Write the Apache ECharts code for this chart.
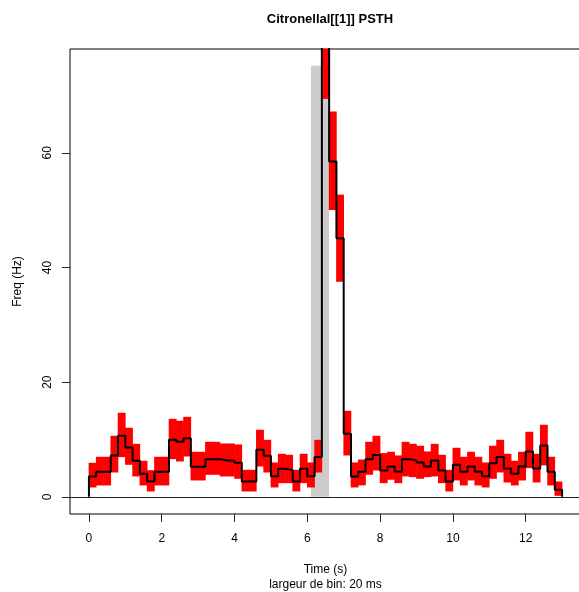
<!DOCTYPE html>
<html lang="fr">
<head>
    <meta charset="UTF-8">
    <title>Citronellal[[1]] PSTH</title>
    <script src="https://cdn.jsdelivr.net/npm/echarts@6/dist/echarts.min.js"></script>
    <style>
        html, body { margin: 0; padding: 0; background: #fff; }
        #main { width: 579px; height: 592px; }
    </style>
</head>
<body>
    <div id="main"></div>
    <script>
        // PSTH, bins de 0.2 s de 0 a 13 s
        var binWidth = 0.2;
        var freqMean = [
            3.55, 4.36, 4.36, 7.21, 10.64, 8.6, 6.28, 4.01, 2.67, 4.36,
            4.36, 9.94, 9.59, 10.23, 5.23, 5.23, 6.57, 6.57, 6.34, 6.34,
            5.93, 2.67, 2.67, 8.2, 7.15, 3.6, 4.88, 4.65, 2.67, 4.88,
            3.6, 6.92, 80, 58.5, 45.1, 11.0, 3.55, 4.36, 6.57, 7.27,
            4.59, 5.29, 4.36, 6.57, 6.34, 5.99, 5.29, 6.34, 4.59, 2.67,
            5.58, 4.36, 5.29, 4.36, 3.6, 5.87, 6.92, 4.94, 4.01, 5.29,
            7.91, 4.94, 8.95, 4.36, 1.22
        ];
        var freqUpper = [
            5.93, 6.98, 6.98, 10.64, 14.65, 12.04, 9.24, 6.28, 4.65, 6.98,
            6.98, 13.6, 13.26, 13.95, 7.85, 7.85, 9.59, 9.59, 9.3, 9.3,
            9.13, 4.71, 4.71, 11.69, 9.94, 5.99, 7.5, 7.33, 4.71, 7.5,
            5.99, 9.94, 90.6, 67.2, 52.7, 15.0, 5.99, 6.5, 9.59, 10.64,
            7.62, 7.85, 7.21, 9.59, 9.24, 8.9, 7.91, 9.24, 7.33, 4.71,
            8.55, 6.98, 7.85, 6.98, 5.99, 8.9, 9.94, 7.5, 6.28, 7.85,
            11.34, 7.5, 12.56, 6.98, 2.67
        ];
        var freqLower = [
            1.63, 1.98, 1.98, 4.24, 6.92, 5.58, 3.55, 1.98, 0.93, 1.98,
            1.98, 6.57, 6.16, 7.03, 2.85, 2.85, 3.84, 3.84, 3.55, 3.55,
            3.14, 0.93, 0.93, 5.29, 4.24, 1.63, 2.38, 2.38, 0.93, 2.38,
            1.63, 4.24, 69.4, 50.0, 37.5, 7.21, 1.63, 2.0, 3.84, 4.59,
            2.38, 2.97, 2.38, 3.55, 3.43, 3.14, 3.43, 3.55, 2.38, 0.93,
            2.85, 1.98, 2.85, 1.98, 1.63, 3.14, 4.24, 2.5, 1.98, 2.85,
            5.0, 2.5, 5.47, 1.98, 0.17
        ];
        // stimulus: debut, fin, hauteur
        var stimulus = [6.1, 6.6, 75.2];
        var xTicks = [0, 2, 4, 6, 8, 10, 12];
        var yTicks = [0, 20, 40, 60];

        var bands = [];
        var steps = [[0, 0]];
        for (var i = 0; i < freqMean.length; i++) {
            bands.push([i * binWidth, (i + 1) * binWidth, freqLower[i], freqUpper[i]]);
            steps.push([i * binWidth, freqMean[i]]);
            steps.push([(i + 1) * binWidth, freqMean[i]]);
        }
        steps.push([freqMean.length * binWidth, 0]);

        function rectItem(params, api, fill, pad) {
            var p0 = api.coord([api.value(0), api.value(3)]);
            var p1 = api.coord([api.value(1), api.value(2)]);
            var shape = echarts.graphic.clipRectByRect({
                x: p0[0] - pad, y: p0[1],
                width: p1[0] - p0[0] + 2 * pad, height: p1[1] - p0[1]
            }, {
                x: params.coordSys.x, y: params.coordSys.y,
                width: params.coordSys.width, height: params.coordSys.height
            });
            return shape && { type: 'rect', shape: shape, style: { fill: fill } };
        }

        var chart = echarts.init(document.getElementById('main'));
        var font = 'Liberation Sans, Arial, Helvetica, sans-serif';
        chart.setOption({
            animation: false,
            textStyle: { fontFamily: font },
            title: {
                text: 'Citronellal[[1]] PSTH',
                left: 325,
                top: 8,
                textAlign: 'center',
                textStyle: { fontSize: 13, fontWeight: 'bold', color: '#000', fontFamily: font }
            },
            grid: {
                left: 70, top: 49, right: -2, bottom: 78,
                show: true, borderColor: '#000', borderWidth: 1,
                containLabel: false,
                outerBoundsMode: 'none'
            },
            xAxis: {
                type: 'value',
                min: -0.52, max: 13.52,
                splitLine: { show: false },
                axisLine: { show: false, onZero: false },
                axisTick: { show: true, length: 8, lineStyle: { color: '#222' }, customValues: xTicks },
                axisLabel: { fontSize: 12, color: '#000', margin: 19, customValues: xTicks },
                name: 'Time (s)\nlargeur de bin: 20 ms',
                nameLocation: 'middle',
                nameGap: 48,
                nameTextStyle: { fontSize: 12, color: '#000', lineHeight: 15 }
            },
            yAxis: {
                type: 'value',
                min: -3.0, max: 78.1,
                splitLine: { show: false },
                axisLine: { show: false, onZero: false },
                axisTick: { show: true, length: 8, lineStyle: { color: '#222' }, customValues: yTicks },
                axisLabel: { fontSize: 12, color: '#000', margin: 16, rotate: 90, customValues: yTicks },
                name: 'Freq (Hz)',
                nameLocation: 'middle',
                nameRotate: 90,
                nameGap: 46,
                nameTextStyle: { fontSize: 12, color: '#000' }
            },
            series: [
                {
                    type: 'custom',
                    data: [[stimulus[0], stimulus[1], 0, stimulus[2]]],
                    encode: { x: [0, 1], y: [2, 3] },
                    renderItem: function (params, api) { return rectItem(params, api, '#cccccc', 0); },
                    silent: true
                },
                {
                    type: 'custom',
                    data: bands,
                    encode: { x: [0, 1], y: [2, 3] },
                    renderItem: function (params, api) { return rectItem(params, api, '#ff0000', 0.3); },
                    silent: true
                },
                {
                    type: 'line',
                    data: steps,
                    symbol: 'none',
                    clip: true,
                    lineStyle: { color: '#000', width: 2 },
                    silent: true,
                    markLine: {
                        silent: true,
                        symbol: 'none',
                        label: { show: false },
                        lineStyle: { color: '#222', width: 1, type: 'solid' },
                        data: [{ yAxis: 0 }]
                    }
                }
            ]
        });
    </script>
</body>
</html>
